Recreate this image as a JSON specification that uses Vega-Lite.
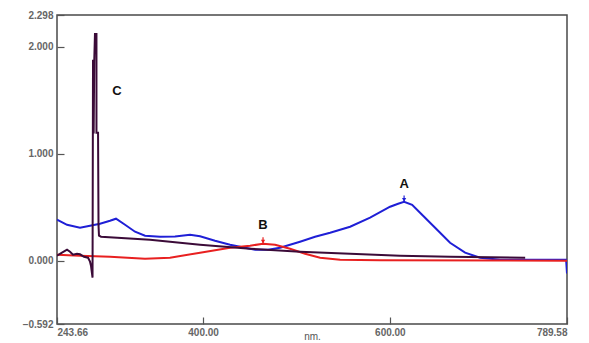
{
  "$schema": "https://vega.github.io/schema/vega-lite/v6.json",
  "width": 510,
  "height": 309,
  "autosize": {"type": "none"},
  "padding": {"left": 57, "top": 15, "right": 22, "bottom": 19},
  "background": "white",
  "config": {
    "view": {"stroke": "#4a4a4a", "strokeWidth": 1.5},
    "axis": {
      "grid": false,
      "domain": false,
      "tickColor": "#555",
      "tickSize": -7,
      "tickWidth": 1.2,
      "labelFont": "Liberation Sans",
      "labelFontWeight": "bold",
      "labelFontSize": 10,
      "labelColor": "#666"
    }
  },
  "datasets": {
    "spectra": [
      {"series": "A", "i": 1, "nm": 243.66, "abs": 0.383},
      {"series": "A", "i": 2, "nm": 254.4, "abs": 0.336},
      {"series": "A", "i": 3, "nm": 268.3, "abs": 0.308},
      {"series": "A", "i": 4, "nm": 279.0, "abs": 0.327},
      {"series": "A", "i": 5, "nm": 289.7, "abs": 0.346},
      {"series": "A", "i": 6, "nm": 300.4, "abs": 0.374},
      {"series": "A", "i": 7, "nm": 306.8, "abs": 0.393},
      {"series": "A", "i": 8, "nm": 316.5, "abs": 0.336},
      {"series": "A", "i": 9, "nm": 327.2, "abs": 0.271},
      {"series": "A", "i": 10, "nm": 337.9, "abs": 0.234},
      {"series": "A", "i": 11, "nm": 354.0, "abs": 0.224},
      {"series": "A", "i": 12, "nm": 370.0, "abs": 0.226},
      {"series": "A", "i": 13, "nm": 386.1, "abs": 0.243},
      {"series": "A", "i": 14, "nm": 396.8, "abs": 0.228},
      {"series": "A", "i": 15, "nm": 412.8, "abs": 0.187},
      {"series": "A", "i": 16, "nm": 428.9, "abs": 0.150},
      {"series": "A", "i": 17, "nm": 445.0, "abs": 0.121},
      {"series": "A", "i": 18, "nm": 455.7, "abs": 0.103},
      {"series": "A", "i": 19, "nm": 469.6, "abs": 0.103},
      {"series": "A", "i": 20, "nm": 482.4, "abs": 0.121},
      {"series": "A", "i": 21, "nm": 503.8, "abs": 0.178},
      {"series": "A", "i": 22, "nm": 519.9, "abs": 0.224},
      {"series": "A", "i": 23, "nm": 536.0, "abs": 0.262},
      {"series": "A", "i": 24, "nm": 557.4, "abs": 0.318},
      {"series": "A", "i": 25, "nm": 578.8, "abs": 0.402},
      {"series": "A", "i": 26, "nm": 600.2, "abs": 0.505},
      {"series": "A", "i": 27, "nm": 608.8, "abs": 0.533},
      {"series": "A", "i": 28, "nm": 615.2, "abs": 0.551},
      {"series": "A", "i": 29, "nm": 623.8, "abs": 0.523},
      {"series": "A", "i": 30, "nm": 632.3, "abs": 0.449},
      {"series": "A", "i": 31, "nm": 648.4, "abs": 0.308},
      {"series": "A", "i": 32, "nm": 664.4, "abs": 0.168},
      {"series": "A", "i": 33, "nm": 680.5, "abs": 0.075},
      {"series": "A", "i": 34, "nm": 696.6, "abs": 0.028},
      {"series": "A", "i": 35, "nm": 718.0, "abs": 0.009},
      {"series": "A", "i": 36, "nm": 750.1, "abs": 0.009},
      {"series": "A", "i": 37, "nm": 788.6, "abs": 0.009},
      {"series": "A", "i": 38, "nm": 789.58, "abs": -0.12},
      {"series": "B", "i": 1, "nm": 243.66, "abs": 0.056},
      {"series": "B", "i": 2, "nm": 268.3, "abs": 0.047},
      {"series": "B", "i": 3, "nm": 300.4, "abs": 0.037},
      {"series": "B", "i": 4, "nm": 337.9, "abs": 0.019},
      {"series": "B", "i": 5, "nm": 364.6, "abs": 0.028},
      {"series": "B", "i": 6, "nm": 396.8, "abs": 0.075},
      {"series": "B", "i": 7, "nm": 428.9, "abs": 0.121},
      {"series": "B", "i": 8, "nm": 450.3, "abs": 0.140},
      {"series": "B", "i": 9, "nm": 464.2, "abs": 0.159},
      {"series": "B", "i": 10, "nm": 477.1, "abs": 0.150},
      {"series": "B", "i": 11, "nm": 493.1, "abs": 0.112},
      {"series": "B", "i": 12, "nm": 509.2, "abs": 0.065},
      {"series": "B", "i": 13, "nm": 525.3, "abs": 0.028},
      {"series": "B", "i": 14, "nm": 546.7, "abs": 0.009},
      {"series": "B", "i": 15, "nm": 589.5, "abs": 0.005},
      {"series": "B", "i": 16, "nm": 789.58, "abs": 0.0},
      {"series": "C", "i": 1, "nm": 243.66, "abs": 0.047},
      {"series": "C", "i": 2, "nm": 249.0, "abs": 0.075},
      {"series": "C", "i": 3, "nm": 254.4, "abs": 0.103},
      {"series": "C", "i": 4, "nm": 257.6, "abs": 0.084},
      {"series": "C", "i": 5, "nm": 260.8, "abs": 0.056},
      {"series": "C", "i": 6, "nm": 265.1, "abs": 0.065},
      {"series": "C", "i": 7, "nm": 268.3, "abs": 0.060},
      {"series": "C", "i": 8, "nm": 272.6, "abs": 0.037},
      {"series": "C", "i": 9, "nm": 276.9, "abs": 0.028},
      {"series": "C", "i": 10, "nm": 279.0, "abs": -0.009},
      {"series": "C", "i": 11, "nm": 280.1, "abs": -0.05},
      {"series": "C", "i": 12, "nm": 281.7, "abs": -0.159},
      {"series": "C", "i": 13, "nm": 282.2, "abs": 1.879},
      {"series": "C", "i": 14, "nm": 282.9, "abs": 1.19},
      {"series": "C", "i": 15, "nm": 283.5, "abs": 1.86},
      {"series": "C", "i": 16, "nm": 284.3, "abs": 2.121},
      {"series": "C", "i": 17, "nm": 285.9, "abs": 2.121},
      {"series": "C", "i": 18, "nm": 285.9, "abs": 1.196},
      {"series": "C", "i": 19, "nm": 287.6, "abs": 1.196},
      {"series": "C", "i": 20, "nm": 288.1, "abs": 0.33},
      {"series": "C", "i": 21, "nm": 288.6, "abs": 0.234},
      {"series": "C", "i": 22, "nm": 290.8, "abs": 0.224},
      {"series": "C", "i": 23, "nm": 343.2, "abs": 0.196},
      {"series": "C", "i": 24, "nm": 396.8, "abs": 0.150},
      {"series": "C", "i": 25, "nm": 450.3, "abs": 0.112},
      {"series": "C", "i": 26, "nm": 503.8, "abs": 0.084},
      {"series": "C", "i": 27, "nm": 557.4, "abs": 0.065},
      {"series": "C", "i": 28, "nm": 610.9, "abs": 0.047},
      {"series": "C", "i": 29, "nm": 664.5, "abs": 0.037},
      {"series": "C", "i": 30, "nm": 744.8, "abs": 0.028}
    ],
    "labels": [
      {"label": "A", "nm": 615.2, "abs": 0.72},
      {"label": "B", "nm": 464.2, "abs": 0.336},
      {"label": "C", "nm": 307.9, "abs": 1.589}
    ],
    "markers": [
      {"series": "A", "nm": 615.2, "abs": 0.551, "top": 0.61},
      {"series": "B", "nm": 464.2, "abs": 0.159, "top": 0.22}
    ]
  },
  "layer": [
    {
      "data": {"name": "spectra"},
      "mark": {"type": "line", "strokeWidth": 2, "clip": true},
      "encoding": {
        "x": {
          "field": "nm", "type": "quantitative",
          "scale": {"domain": [243.66, 789.58], "nice": false, "zero": false},
          "axis": {"values": [243.66, 400, 600, 789.58], "format": ".2f", "title": "nm.", "titleFont": "Liberation Sans", "titleFontSize": 10, "titleFontWeight": "normal", "titleColor": "#555", "labelPadding": 10, "titlePadding": -6}
        },
        "y": {
          "field": "abs", "type": "quantitative",
          "scale": {"domain": [-0.592, 2.298], "nice": false, "zero": false},
          "axis": {"values": [-0.592, 0, 1, 2, 2.298], "format": ".3f", "title": null, "labelPadding": 11}
        },
        "color": {
          "field": "series", "type": "nominal",
          "scale": {"domain": ["A", "B", "C"], "range": ["#1f1fd6", "#e82020", "#3b0b38"]},
          "legend": null
        },
        "order": {"field": "i", "type": "quantitative"}
      }
    },
    {
      "data": {"name": "markers"},
      "mark": {"type": "rule", "strokeWidth": 1.2},
      "encoding": {
        "x": {"field": "nm", "type": "quantitative"},
        "y": {"field": "abs", "type": "quantitative"},
        "y2": {"field": "top"},
        "color": {"field": "series", "type": "nominal", "legend": null}
      }
    },
    {
      "data": {"name": "markers"},
      "mark": {"type": "point", "shape": "triangle-down", "filled": true, "size": 18, "yOffset": -2, "opacity": 1},
      "encoding": {
        "x": {"field": "nm", "type": "quantitative"},
        "y": {"field": "abs", "type": "quantitative"},
        "color": {"field": "series", "type": "nominal", "legend": null}
      }
    },
    {
      "data": {"name": "labels"},
      "mark": {"type": "text", "font": "Liberation Sans", "fontWeight": "bold", "fontSize": 13, "color": "#111"},
      "encoding": {
        "x": {"field": "nm", "type": "quantitative"},
        "y": {"field": "abs", "type": "quantitative"},
        "text": {"field": "label"}
      }
    }
  ]
}
